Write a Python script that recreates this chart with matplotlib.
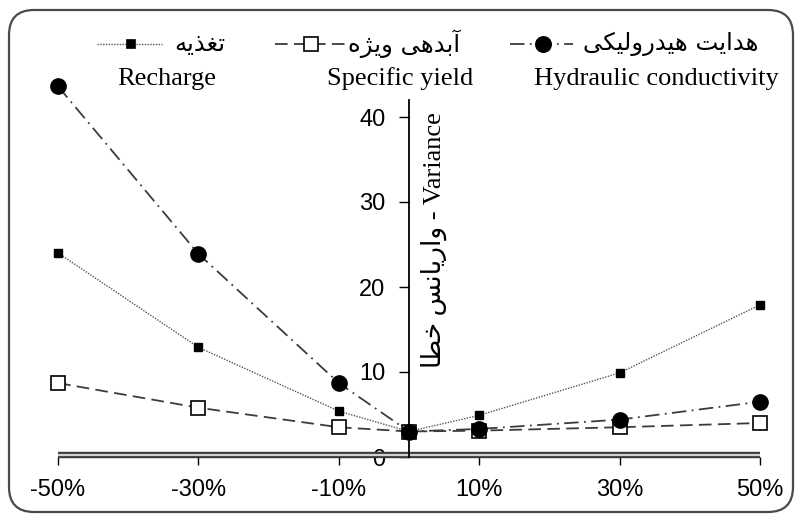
import matplotlib
matplotlib.use("Agg")
import matplotlib.pyplot as plt
from matplotlib.lines import Line2D
from matplotlib.patches import FancyBboxPatch
import matplotlib.transforms as mtransforms

# ---- data ----
x_vals = [-50, -30, -10, 0, 10, 30, 50]
x_tick_vals = [-50, -30, -10, 10, 30, 50]
x_tick_labels = ["-50%", "-30%", "-10%", "10%", "30%", "50%"]
y_tick_vals = [0, 10, 20, 30, 40]
recharge = [24.0, 12.9, 5.4, 3.0, 4.9, 9.9, 17.9]
specific_yield = [8.7, 5.8, 3.5, 3.0, 3.1, 3.5, 4.0]
hydraulic = [43.6, 23.9, 8.7, 3.0, 3.3, 4.4, 6.5]

# Persian labels (shaped presentation forms, visual order)
fa_recharge = "\uFEEA\uFBFE\uFEAC\uFED0\uFE97"                       # تغذیه
fa_specific = ("\uFEE9\uFB8B\uFBFE\uFEED" + " " +
               "\uFBFD\uFEEB\uFEAA\uFE91\uFE81")                      # آبدهی ویژه
fa_hydraulic = ("\uFBFD\uFB91\uFBFF\uFEDF\uFEED\uFEAD\uFEAA\uFBFF\uFEEB" + " " +
                "\uFE96\uFBFE\uFE8D\uFEAA\uFEEB")                     # هدایت هیدرولیکی
fa_variance = ("\uFE8E\uFEC4\uFEA7" + " " +
               "\uFEB2\uFEE7\uFE8E\uFBFE\uFEAD\uFE8D\uFEED")          # واریانس خطا
en_labels = ["Recharge", "Specific yield", "Hydraulic conductivity"]

W, H = 797, 515
fig = plt.figure(figsize=(W / 100, H / 100), dpi=100)
SERIF = ["Liberation Serif", "DejaVu Sans"]
SANS = ["Liberation Sans", "DejaVu Sans"]
FA = ["DejaVu Sans"]

def fx(px):
    return px / W

def fy(py):
    return 1 - py / H

# rounded border (pixel coordinates)
bx0, by0, bx1, by1 = 9, 10, 793, 512
border = FancyBboxPatch((bx0, H - by1), bx1 - bx0, by1 - by0,
                        boxstyle="round,pad=0,rounding_size=25",
                        transform=mtransforms.IdentityTransform(), fill=False,
                        edgecolor="#4a4a4a", linewidth=1.6)
fig.patches.append(border)

ax = fig.add_axes([fx(40.5), fy(457), fx(737), (457 - 100) / H])
ax.set_xlim(-52.5, 52.5)
ax.set_ylim(0, 42)

line_col = "#3c3c3c"
ax.plot(x_vals, recharge, linestyle=(0, (1, 1)), linewidth=1.0, color="#555555",
        marker="s", markersize=6, markerfacecolor="black", markeredgecolor="black",
        clip_on=False, zorder=3)
ax.plot(x_vals, specific_yield, linestyle=(0, (7, 3.5)), linewidth=1.3, color=line_col,
        marker="s", markersize=10, markerfacecolor="white", markeredgecolor="black",
        markeredgewidth=1.2, clip_on=False, zorder=3)
ax.plot(x_vals, hydraulic, linestyle=(0, (8, 3, 1, 3)), linewidth=1.3, color=line_col,
        marker="o", markersize=11, markerfacecolor="black", markeredgecolor="black",
        clip_on=False, zorder=4)

# spines
for s in ["top", "right", "bottom"]:
    ax.spines[s].set_visible(False)
ax.spines["left"].set_position(("data", 0))
ax.spines["left"].set_linewidth(1.3)
ax.spines["left"].set_color("black")
ax.spines["left"].set_bounds(0, 42)

# double x-axis line
off = mtransforms.offset_copy(ax.transData, fig=fig, x=0, y=2.5, units="dots")
ax.plot([-50, 50], [0, 0], color="#3a3a3a", linewidth=4.6, transform=off,
        clip_on=False, zorder=2, solid_capstyle="butt")
ax.plot([-50, 50], [0, 0], color="#d0d0d0", linewidth=1.6, transform=off,
        clip_on=False, zorder=2, solid_capstyle="butt")

ax.set_xticks(x_tick_vals)
ax.set_xticklabels(x_tick_labels, fontfamily=SANS, fontsize=17)
ax.tick_params(axis="x", direction="out", length=6, width=1, pad=10, colors="black")
ax.set_yticks(y_tick_vals)
ax.set_yticklabels([str(v) for v in y_tick_vals], fontfamily=SANS, fontsize=17)
ax.tick_params(axis="y", direction="out", length=7, width=1, pad=10, colors="black")
ax.patch.set_alpha(0)

# y label
fig.text(fx(434), fy(240), fa_variance + " - Variance", rotation=90,
         ha="center", va="center", fontsize=19, family=SERIF)

# legend (manual)
legend_y = fy(44)
entries = [
    dict(x0=97, x1=162, xm=131, ls=(0, (1, 1)), lw=1.0, c="#555555", m="s", ms=6,
         mfc="black", lab=fa_recharge, lx=200),
    dict(x0=275, x1=347, xm=311, ls=(0, (7, 3.5)), lw=1.3, c=line_col, m="s", ms=10,
         mfc="white", lab=fa_specific, lx=404),
    dict(x0=510, x1=573, xm=543, ls=(0, (8, 3, 1, 3)), lw=1.3, c=line_col, m="o", ms=11,
         mfc="black", lab=fa_hydraulic, lx=671),
]
for e in entries:
    fig.add_artist(Line2D([fx(e["x0"]), fx(e["x1"])], [legend_y, legend_y],
                          transform=fig.transFigure, linestyle=e["ls"],
                          linewidth=e["lw"], color=e["c"]))
    fig.add_artist(Line2D([fx(e["xm"])], [legend_y], transform=fig.transFigure,
                          marker=e["m"], markersize=e["ms"], markerfacecolor=e["mfc"],
                          markeredgecolor="black", markeredgewidth=1.2, linestyle="none"))
    fig.text(fx(e["lx"]), legend_y, e["lab"], ha="center", va="center",
             fontsize=17.5, family=FA)

for lab, cx in zip(en_labels, [167, 400, 656]):
    fig.text(fx(cx), fy(79), lab, ha="center", va="center", fontsize=19,
             family=SERIF)

fig.savefig("out.png", dpi=100)
